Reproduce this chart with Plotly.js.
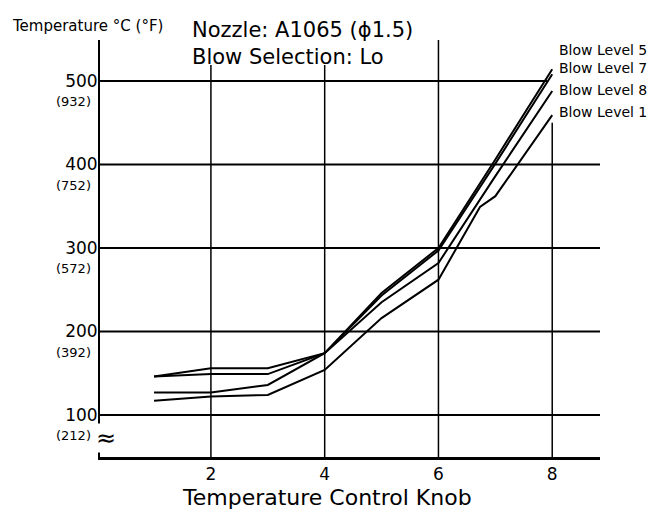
<!DOCTYPE html>
<html>
<head>
<meta charset="utf-8">
<script src="https://cdn.plot.ly/plotly-3.0.1.min.js"></script>
<style>
  html, body { margin: 0; padding: 0; background: #fff; }
  #chart { width: 668px; height: 514px; }
</style>
</head>
<body>
<div id="chart"></div>
<script>
// ---- data ----
const seriesNames = ['Blow Level 5', 'Blow Level 7', 'Blow Level 8', 'Blow Level 1'];
const knobL5 = [1, 2, 3, 4, 5, 6, 7, 8];
const tempL5 = [146, 156, 156, 174, 246, 300, 406, 514];
const knobL7 = [1, 2, 3, 4, 5, 6, 7, 8];
const tempL7 = [146, 149, 149, 174, 243, 297, 401, 508];
const knobL8 = [1, 2, 3, 4, 5, 6, 7, 8];
const tempL8 = [127, 127, 136, 174, 235, 282, 386, 488];
const knobL1 = [1, 2, 3, 4, 5, 6, 6.73, 7, 8];
const tempL1 = [117, 122, 124, 154, 216, 262, 349, 362, 459];

const xTickVals = [2, 4, 6, 8];
const xTickText = ['2', '4', '6', '8'];
const yTickVals = [100, 200, 300, 400, 500];
const yTickText = ['100', '200', '300', '400', '500'];
const yTickF = ['(212)', '(392)', '(572)', '(752)', '(932)'];

const titleLine1 = 'Nozzle: A1065 (\u03d51.5)';
const titleLine2 = 'Blow Selection: Lo';
const yLabel = 'Temperature \u00b0C (\u00b0F)';
const xLabel = 'Temperature Control Knob';

// ---- build ----
const FONT = 'DejaVu Sans, Arial, sans-serif';
const xs = [knobL5, knobL7, knobL8, knobL1];
const ys = [tempL5, tempL7, tempL8, tempL1];
const labelShift = [19, 6, 1, 3];

const traces = seriesNames.map((n, i) => ({
  type: 'scatter', mode: 'lines', name: n,
  x: xs[i], y: ys[i],
  line: { color: '#000', width: 2 },
  hoverinfo: 'skip'
}));

const annotations = [];
seriesNames.forEach((n, i) => {
  annotations.push({
    xref: 'x', yref: 'y',
    x: xs[i][xs[i].length - 1], y: ys[i][ys[i].length - 1],
    text: n, showarrow: false, xanchor: 'left', yanchor: 'middle',
    xshift: 5, yshift: labelShift[i],
    font: { family: FONT, size: 14, color: '#000' }
  });
});
yTickVals.forEach((v, i) => {
  annotations.push({
    xref: 'paper', yref: 'y', x: 0, y: v,
    text: yTickF[i], showarrow: false, xanchor: 'right', yanchor: 'middle',
    xshift: -7, yshift: -21,
    font: { family: FONT, size: 13, color: '#000' }
  });
});
annotations.push({
  xref: 'paper', yref: 'paper', x: -90 / 500, y: 1 + (40 - 26) / 417,
  text: yLabel, showarrow: false, xanchor: 'left', yanchor: 'middle',
  font: { family: FONT, size: 15, color: '#000' }
});
annotations.push({
  xref: 'paper', yref: 'paper', x: 226.5 / 500, y: -40 / 417,
  text: xLabel, showarrow: false, xanchor: 'center', yanchor: 'middle',
  font: { family: FONT, size: 22, color: '#000' }
});
// axis break mark
annotations.push({
  xref: 'paper', yref: 'y', x: 0, y: 72.5,
  text: '\u2248', showarrow: false, xanchor: 'center', yanchor: 'middle',
  xshift: 6, bgcolor: '#fff', borderpad: 0,
  font: { family: FONT, size: 24, color: '#000' }
});

// grid lines drawn as shapes so their extents follow the drawing
const xGridTop = [519, 519, 549, 450];
const shapes = [];
xTickVals.forEach((v, i) => {
  shapes.push({ type: 'line', xref: 'x', yref: 'y', x0: v, x1: v, y0: 49.7, y1: xGridTop[i],
    line: { color: '#000', width: 1.5 }, layer: 'below' });
});
yTickVals.forEach((v, i) => {
  shapes.push({ type: 'line', xref: 'paper', yref: 'y', x0: 0, x1: i === yTickVals.length - 1 ? 0.894 : 1, y0: v, y1: v,
    line: { color: '#000', width: 2 }, layer: 'below' });
});

const layout = {
  width: 668, height: 514,
  margin: { l: 100, r: 68, t: 40, b: 57 },
  paper_bgcolor: '#fff', plot_bgcolor: '#fff',
  showlegend: false,
  font: { family: FONT, color: '#000' },
  title: {
    text: titleLine1 + '<br>' + titleLine2,
    xref: 'paper', x: 92 / 500, xanchor: 'left',
    yref: 'container', y: 1 - 37 / 514, yanchor: 'middle',
    font: { family: FONT, size: 21, color: '#000' }
  },
  xaxis: {
    range: [0.05, 8.84],
    tickvals: xTickVals, ticktext: xTickText,
    ticks: '', showgrid: false,
    zeroline: false, showline: true, linecolor: '#000', linewidth: 3,
    tickfont: { family: FONT, size: 17, color: '#000' }
  },
  yaxis: {
    range: [49.7, 549],
    tickvals: yTickVals, ticktext: yTickText,
    ticks: '', ticklabelstandoff: -3,
    showgrid: false,
    zeroline: false, showline: true, linecolor: '#000', linewidth: 2,
    tickfont: { family: FONT, size: 17, color: '#000' }
  },
  shapes: shapes,
  annotations: annotations
};

Plotly.newPlot('chart', traces, layout, { staticPlot: true, displayModeBar: false });
</script>
</body>
</html>
